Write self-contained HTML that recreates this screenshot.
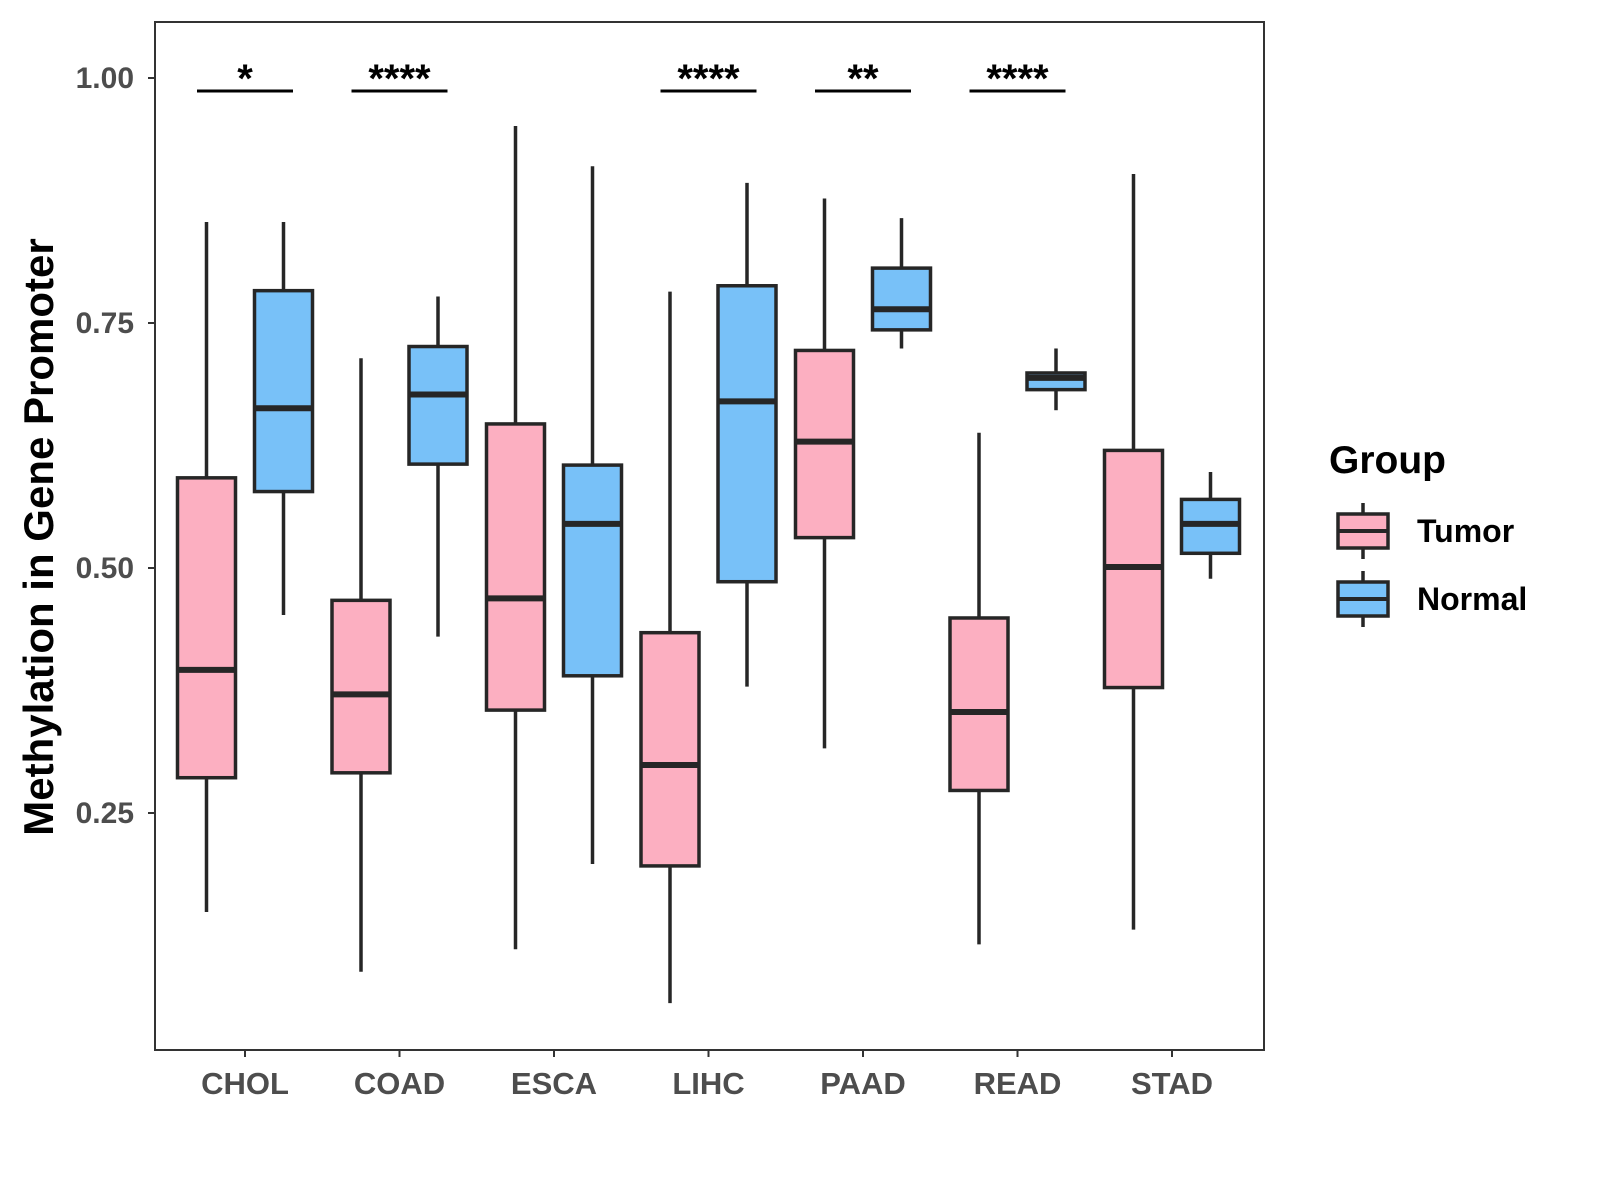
<!DOCTYPE html>
<html><head><meta charset="utf-8"><style>body{margin:0;background:#fff}svg{display:block}text{font-family:"Liberation Sans",Arial,sans-serif;font-weight:bold}</style></head>
<body>
<svg id="chart" width="1600" height="1200"></svg>
<script>
const categories=["CHOL","COAD","ESCA","LIHC","PAAD","READ","STAD"];
const tumorStats=[[0.149,0.286,0.396,0.592,0.853],[0.088,0.291,0.371,0.467,0.714],[0.111,0.355,0.469,0.647,0.951],[0.056,0.196,0.299,0.434,0.782],[0.316,0.531,0.629,0.722,0.877],[0.116,0.273,0.353,0.449,0.638],[0.131,0.378,0.501,0.620,0.902]];
const normalStats=[[0.452,0.578,0.663,0.783,0.853],[0.430,0.606,0.677,0.726,0.777],[0.198,0.390,0.545,0.605,0.910],[0.379,0.486,0.670,0.788,0.893],[0.724,0.743,0.764,0.806,0.857],[0.661,0.682,0.694,0.699,0.724],[0.489,0.515,0.545,0.570,0.598]];
const sigLabels=["*","****","","****","**","****",""];
const yTicks=[0.25,0.5,0.75,1.0];
const yTickLabels=["0.25","0.50","0.75","1.00"];
const NS="http://www.w3.org/2000/svg",svg=document.getElementById("chart");
const y=v=>78+(1-v)*980;
const x=i=>245+i*154.5;
function el(t,a,p){const e=document.createElementNS(NS,t);for(const k in a)e.setAttribute(k,a[k]);(p||svg).appendChild(e);return e;}
const panel=el("rect",{x:155,y:22,width:1109,height:1028,fill:"none",stroke:"#333","stroke-width":2});


yTicks.forEach((v,i)=>{
  el("line",{x1:148,x2:155,y1:y(v),y2:y(v),stroke:"#333","stroke-width":2});
  const t=el("text",{x:134,y:y(v)+10,"text-anchor":"end","font-size":30,fill:"#4d4d4d"});t.textContent=yTickLabels[i];
  
  
});
function box(cx,s,fill,name){
  const g=el("g",{});
  
  
  el("line",{x1:cx,x2:cx,y1:y(s[4]),y2:y(s[0]),stroke:"#262626","stroke-width":3.5},g);
  el("rect",{x:cx-29,y:y(s[3]),width:58,height:y(s[1])-y(s[3]),fill:fill,stroke:"#262626","stroke-width":3.5},g);
  el("line",{x1:cx-29,x2:cx+29,y1:y(s[2]),y2:y(s[2]),stroke:"#262626","stroke-width":6},g);
}
categories.forEach((c,i)=>{
  const cx=x(i);
  box(cx-38.5,tumorStats[i],"#fcafc1","box-tumor-"+c.toLowerCase());
  box(cx+38.5,normalStats[i],"#78c1f8","box-normal-"+c.toLowerCase());
  el("line",{x1:cx,x2:cx,y1:1050,y2:1057,stroke:"#333","stroke-width":2});
  const t=el("text",{x:cx,y:1094,"text-anchor":"middle","font-size":31,fill:"#4d4d4d"});t.textContent=c;
  
  
  if(sigLabels[i]){
    const l=el("line",{x1:cx-48,x2:cx+48,y1:91,y2:91,stroke:"#000","stroke-width":3});
    
    
    const s=el("text",{x:cx,y:92,"text-anchor":"middle","font-size":40,fill:"#000"});s.textContent=sigLabels[i];
    
    
  }
});
const yl=el("text",{x:0,y:0,transform:"translate(53,537) rotate(-90)","text-anchor":"middle","font-size":42,fill:"#000"});yl.textContent="Methylation in Gene Promoter";


const lt=el("text",{x:1329,y:473,"font-size":39,fill:"#000"});lt.textContent="Group";


[["Tumor","#fcafc1",531],["Normal","#78c1f8",599]].forEach(([n,f,cy])=>{
  const g=el("g",{});
  
  
  el("line",{x1:1363,x2:1363,y1:cy-28,y2:cy+28,stroke:"#262626","stroke-width":3.5},g);
  el("rect",{x:1338,y:cy-17,width:50,height:34,fill:f,stroke:"#262626","stroke-width":3.5},g);
  el("line",{x1:1338,x2:1388,y1:cy,y2:cy,stroke:"#262626","stroke-width":4},g);
  const t=el("text",{x:1417,y:cy+11,"font-size":32,fill:"#000"},g);t.textContent=n;
});
</script>
</body></html>
